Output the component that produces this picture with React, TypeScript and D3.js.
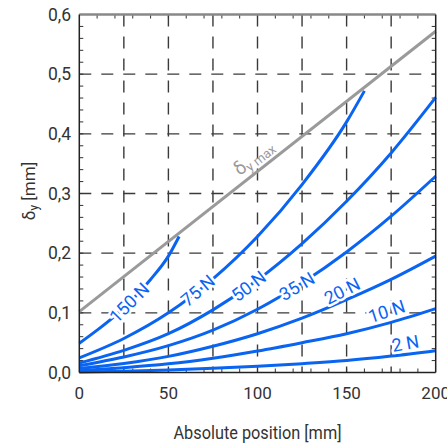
import React from 'react';
import * as d3 from 'd3';

const X_TICKS = [0, 50, 100, 150, 200];
const Y_TICKS = [0, 0.1, 0.2, 0.3, 0.4, 0.5, 0.6];
const GRID_X = [25, 50, 75, 100, 125, 150, 175];
const GRID_Y = [0.1, 0.2, 0.3, 0.4, 0.5];

const POS = [0, 25, 50, 75, 100, 125, 150, 175, 200];
const POS_150 = [0, 10, 20, 30, 40, 50, 56];
const POS_75 = [0, 25, 50, 75, 100, 125, 150, 160];

const V150 = [0.049, 0.071, 0.095, 0.123, 0.156, 0.195, 0.228];
const V75 = [0.0245, 0.057, 0.1, 0.157, 0.228, 0.315, 0.42, 0.472];
const V50 = [0.016, 0.037, 0.065, 0.105, 0.155, 0.216, 0.287, 0.368, 0.461];
const V35 = [0.0113, 0.026, 0.045, 0.071, 0.106, 0.15, 0.202, 0.262, 0.329];
const V20 = [0.0065, 0.015, 0.027, 0.044, 0.065, 0.091, 0.122, 0.156, 0.195];
const V10 = [0.0033, 0.008, 0.0145, 0.024, 0.036, 0.05, 0.065, 0.084, 0.107];
const V2 = [0.0007, 0.002, 0.004, 0.007, 0.0105, 0.0148, 0.02, 0.0275, 0.0366];

const MAX_POS = [0, 200];
const MAX_VAL = [0.102, 0.572];

const LABELS = ['150 N', '75 N', '50 N', '35 N', '20 N', '10 N', '2 N'];

const SERIES = [
  { pos: POS_150, val: V150, label: LABELS[0], at: 28, angle: -45, off: 0 },
  { pos: POS_75, val: V75, label: LABELS[1], at: 66.5, angle: -40, off: 0 },
  { pos: POS, val: V50, label: LABELS[2], at: 95, angle: -37, off: 0 },
  { pos: POS, val: V35, label: LABELS[3], at: 122, angle: -31, off: 0 },
  { pos: POS, val: V20, label: LABELS[4], at: 150, angle: -27, off: -10 },
  { pos: POS, val: V10, label: LABELS[5], at: 174.5, angle: -18, off: -12 },
  { pos: POS, val: V2, label: LABELS[6], at: 184, angle: -10, off: -11 },
];

const BLUE = '#0a64f2';
const GRAY = '#9a9a9a';
const INK = '#333';
const FONT = 'Roboto, "Noto Sans", sans-serif';

function interp(pos: number[], val: number[], x: number) {
  for (let i = 0; i < pos.length - 1; i++) {
    if (x >= pos[i] && x <= pos[i + 1]) {
      const t = (x - pos[i]) / (pos[i + 1] - pos[i]);
      return val[i] + t * (val[i + 1] - val[i]);
    }
  }
  return val[val.length - 1];
}

export default function App() {
  const W = 447;
  const H = 446;
  const x = d3.scaleLinear().domain([0, 200]).range([79.3, 435.7]);
  const y = d3.scaleLinear().domain([0, 0.6]).range([372.5, 14.5]);
  const line = d3
    .line<[number, number]>()
    .x((d) => x(d[0]))
    .y((d) => y(d[1]))
    .curve(d3.curveMonotoneX);

  const minorX = d3.range(10, 200, 10);
  const minorY = d3.range(0.02, 0.6, 0.02);

  const [x0, x1] = x.range();
  const [y0, y1] = y.range();

  const maxAt = 100;
  const maxY = MAX_VAL[0] + ((MAX_VAL[1] - MAX_VAL[0]) * (maxAt - MAX_POS[0])) / (MAX_POS[1] - MAX_POS[0]);

  return (
    <svg width={W} height={H} style={{ display: 'block', position: 'absolute', left: 0, top: 0 }}>
      <rect width={W} height={H} fill="#fff" />
      {GRID_X.map((g) => (
        <line key={'gx' + g} x1={x(g)} x2={x(g)} y1={y1} y2={y0} stroke="#3a3a3a" strokeWidth={1.4} strokeDasharray="12,10" />
      ))}
      {GRID_Y.map((g) => (
        <line key={'gy' + g} x1={x0} x2={x1} y1={y(g)} y2={y(g)} stroke="#3a3a3a" strokeWidth={1.4} strokeDasharray="12,10" />
      ))}
      {minorX.map((t) => (
        <g key={'tx' + t}>
          <line x1={x(t)} x2={x(t)} y1={y0} y2={y0 - 4} stroke={INK} strokeWidth={1} />
          <line x1={x(t)} x2={x(t)} y1={y1} y2={y1 + 4} stroke={INK} strokeWidth={1} />
        </g>
      ))}
      {minorY.map((t) => (
        <g key={'ty' + t}>
          <line x1={x0} x2={x0 + 4} y1={y(t)} y2={y(t)} stroke={INK} strokeWidth={1} />
          <line x1={x1} x2={x1 - 4} y1={y(t)} y2={y(t)} stroke={INK} strokeWidth={1} />
        </g>
      ))}
      <path
        d={line(MAX_POS.map((p, i) => [p, MAX_VAL[i]]) as [number, number][]) || ''}
        fill="none"
        stroke={GRAY}
        strokeWidth={3}
      />
      <text
        transform={`translate(${x(maxAt)},${y(maxY) - 9}) rotate(-38)`}
        fill={GRAY}
        fontFamily={FONT}
        fontSize={19}
        textAnchor="middle"
      >
        δ<tspan fontSize={13} dy={3}>y max</tspan>
      </text>
      {SERIES.map((s, i) => (
        <path
          key={'s' + i}
          d={line(s.pos.map((p, j) => [p, s.val[j]]) as [number, number][]) || ''}
          fill="none"
          stroke={BLUE}
          strokeWidth={3}
        />
      ))}
      {SERIES.map((s, i) => {
        const px = x(s.at);
        const py = y(interp(s.pos, s.val, s.at));
        const a = (s.angle * Math.PI) / 180;
        const ox = -Math.sin(a) * s.off;
        const oy = Math.cos(a) * s.off;
        return (
          <text
            key={'l' + i}
            transform={`translate(${px + ox},${py + oy}) rotate(${s.angle})`}
            textAnchor="middle"
            dominantBaseline="central"
            fontFamily={FONT}
            fontSize={18}
            fill={BLUE}
            stroke="#fff"
            strokeWidth={5}
            strokeLinejoin="round"
            paintOrder="stroke"
          >
            {s.label}
          </text>
        );
      })}
      <line x1={x0} x2={x1} y1={y1} y2={y1} stroke="#888" strokeWidth={2.5} />
      <line x1={x0} x2={x0} y1={y1} y2={y0} stroke="#222" strokeWidth={1.5} />
      <line x1={x1} x2={x1} y1={y1} y2={y0} stroke="#222" strokeWidth={1.5} />
      <line x1={x0} x2={x1} y1={y0} y2={y0} stroke="#222" strokeWidth={1.5} />
      {X_TICKS.map((t) => (
        <text key={'xl' + t} x={x(t)} y={398.5} textAnchor="middle" fontFamily={FONT} fontSize={17} fill={INK}>
          {t}
        </text>
      ))}
      {Y_TICKS.map((t) => (
        <text key={'yl' + t} x={71} y={y(t)} dy="0.36em" textAnchor="end" fontFamily={FONT} fontSize={17.5} fill={INK}>
          {t.toFixed(1).replace('.', ',')}
        </text>
      ))}
      <text
        x={257.5}
        y={438.5}
        textAnchor="middle"
        fontFamily={FONT}
        fontSize={17.5}
        fill={INK}
        textLength={168}
        lengthAdjust="spacingAndGlyphs"
      >
        Absolute position [mm]
      </text>
      <text transform="translate(35,191) rotate(-90)" textAnchor="middle" fontFamily={FONT} fontSize={17} fill={INK}>
        δ<tspan fontSize={12} dy={3}>y</tspan>
        <tspan dy={-3}> [mm]</tspan>
      </text>
    </svg>
  );
}
